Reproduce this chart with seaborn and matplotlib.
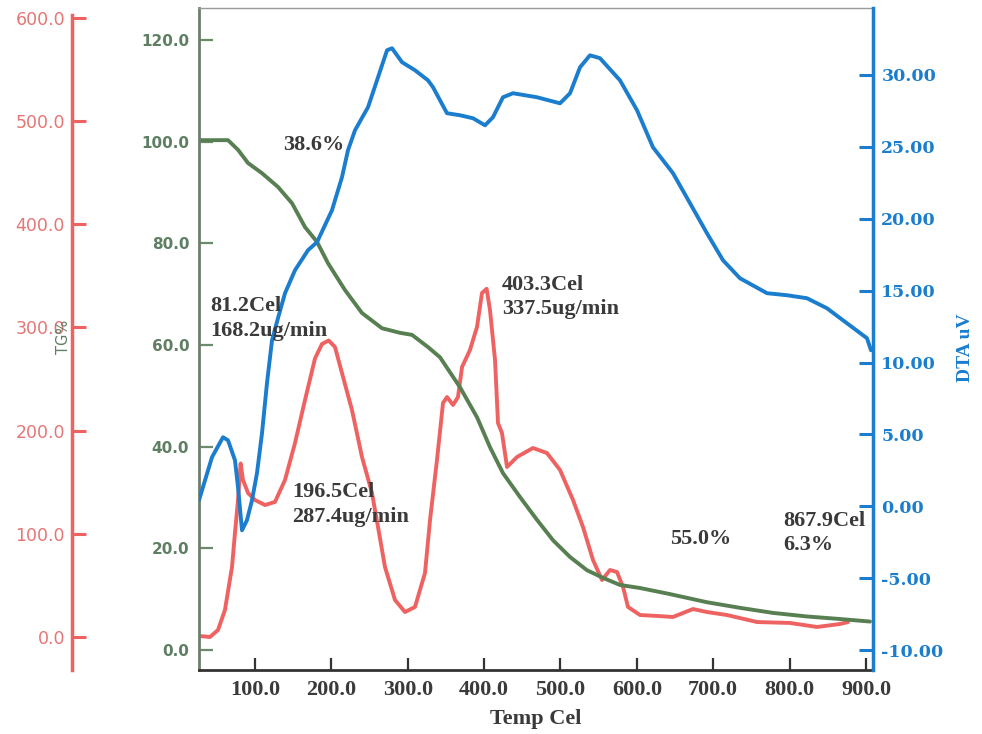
import matplotlib
matplotlib.use("Agg")
import matplotlib.pyplot as plt
import seaborn as sns

# ---------------- data ----------------
tg_temp = [26.7, 64.7, 77.8, 90.9, 109.2, 130.1, 148.5, 165.5, 181.2, 195.6,
           217.9, 240.1, 266.3, 289.9, 305.6, 326.5, 342.2, 368.4, 390.7, 407.7,
           424.7, 447.0, 469.3, 490.2, 512.5, 534.7, 555.7, 577.9, 604.1, 643.4,
           691.8, 735.0, 778.3, 822.8, 866.0, 905.3]
tg_pct = [100.3, 100.3, 98.4, 95.8, 93.8, 91.1, 87.9, 83.2, 80.3, 76.1,
          70.8, 66.3, 63.3, 62.4, 62.0, 59.6, 57.6, 51.7, 45.8, 39.9,
          34.8, 30.1, 25.6, 21.6, 18.3, 15.7, 14.2, 12.8, 12.2, 11.0,
          9.4, 8.3, 7.3, 6.6, 6.1, 5.6]

dtg_temp = [26.7, 41.1, 51.6, 60.7, 69.9, 73.8, 77.8, 81.2, 84.3, 90.9,
            100.0, 113.1, 126.2, 139.3, 152.4, 165.5, 178.6, 187.7, 196.5, 204.8,
            213.9, 227.0, 240.1, 253.2, 261.1, 270.2, 283.3, 296.4, 309.5, 322.6,
            329.2, 338.3, 346.2, 351.4, 359.3, 365.8, 371.1, 381.5, 390.7, 397.2,
            403.3, 407.7, 414.3, 418.2, 423.4, 430.0, 443.1, 464.0, 482.3, 499.4,
            516.4, 529.5, 542.6, 554.4, 564.8, 574.0, 581.9, 588.4, 604.1, 626.4,
            647.3, 673.5, 691.8, 718.0, 757.3, 800.5, 835.9, 866.0, 876.5]
dtg_rate = [1.0, 0.0, 6.8, 26.2, 67.9, 100.8, 132.8, 168.2, 152.2, 139.6,
            132.8, 127.9, 130.9, 152.2, 188.0, 229.7, 270.0, 284.0, 287.4, 281.0,
            255.9, 220.0, 174.5, 139.6, 106.6, 67.9, 35.9, 24.2, 29.1, 62.0,
            113.4, 171.6, 226.8, 232.6, 224.9, 232.6, 261.7, 278.2, 300.5, 333.4,
            337.5, 317.0, 268.5, 207.4, 197.7, 164.8, 174.5, 183.2, 178.3, 161.9,
            132.8, 106.6, 74.6, 55.2, 64.9, 63.0, 48.5, 29.1, 21.3, 20.4,
            19.4, 27.1, 24.2, 21.3, 14.5, 13.6, 9.7, 12.6, 14.5]

dta_temp = [26.7, 43.7, 58.1, 64.7, 73.8, 77.8, 83.0, 89.5, 96.1, 102.6,
            109.2, 115.7, 122.3, 130.1, 139.3, 152.4, 169.4, 181.2, 200.8, 213.9,
            221.8, 231.0, 248.0, 261.1, 272.9, 279.4, 292.5, 309.5, 326.5, 333.1,
            351.4, 368.4, 385.5, 401.2, 411.6, 424.7, 437.8, 469.3, 499.4, 512.5,
            525.6, 538.6, 551.7, 577.9, 600.2, 621.1, 647.3, 669.6, 691.8, 712.8,
            735.0, 770.4, 796.6, 822.8, 849.0, 875.1, 901.3, 906.6]
dta_uv = [0.42, 3.41, 4.80, 4.59, 3.20, 1.32, -1.67, -0.97, 0.42, 2.30,
          5.08, 8.56, 11.55, 13.08, 14.82, 16.42, 17.81, 18.37, 20.59, 22.89,
          24.77, 26.16, 27.76, 29.84, 31.72, 31.86, 30.89, 30.33, 29.63, 29.15,
          27.34, 27.20, 26.99, 26.50, 27.06, 28.45, 28.73, 28.45, 28.03, 28.73,
          30.54, 31.37, 31.17, 29.63, 27.55, 24.97, 23.17, 21.08, 18.99, 17.11,
          15.86, 14.82, 14.68, 14.47, 13.77, 12.73, 11.69, 10.85]

x_ticks = [100, 200, 300, 400, 500, 600, 700, 800, 900]
tg_ticks = [0, 20, 40, 60, 80, 100, 120]
dtg_ticks = [0, 100, 200, 300, 400, 500, 600]
dta_ticks = [-10, -5, 0, 5, 10, 15, 20, 25, 30]

x_label = "Temp Cel"
tg_label = "TG%"
dta_label = "DTA uV"
annotation_lines = ["38.6%", "81.2Cel", "168.2ug/min", "196.5Cel", "287.4ug/min",
                    "403.3Cel", "337.5ug/min", "55.0%", "867.9Cel", "6.3%"]

# ---------------- style ----------------
sns.set_theme(style="white")
plt.rcParams['font.family'] = ['DejaVu Sans']

GREEN = "#587f52"
GREEN_TXT = "#5f7f63"
RED = "#ef6262"
RED_TXT = "#e57676"
BLUE = "#1b7dcd"
TXT = "#3a3a3a"

W, H = 982, 734
fig = plt.figure(figsize=(W / 100, H / 100), dpi=100)
rect = [199 / W, (H - 670) / H, 674 / W, 662 / H]
ax = fig.add_axes(rect)
ax_red = ax.twinx()
ax_blue = ax.twinx()

ax_red.set_zorder(0)
ax.set_zorder(1)
ax_blue.set_zorder(2)
ax.patch.set_visible(False)
ax_red.patch.set_visible(False)
ax_blue.patch.set_visible(False)

line_kw = dict(linewidth=2.8, estimator=None, sort=False,
               solid_joinstyle="round", solid_capstyle="round")
sns.lineplot(x=dtg_temp, y=dtg_rate, ax=ax_red, color=RED, **line_kw)
sns.lineplot(x=tg_temp, y=tg_pct, ax=ax, color=GREEN, **line_kw)
sns.lineplot(x=dta_temp, y=dta_uv, ax=ax_blue, color=BLUE, **line_kw)

XL = (26.7, 909.2)
for a in (ax, ax_red, ax_blue):
    a.set_xlim(*XL)
    a.set_xlabel("")
    a.set_ylabel("")

# ---- main (TG) axes ----
ax.set_ylim(-3.93, 126.3)
ax.set_xticks(x_ticks, labels=[f"{v:.1f}" for v in x_ticks],
              fontfamily="Liberation Serif", fontweight="bold", fontsize=16, color=TXT)
ax.tick_params(axis="x", direction="in", length=9, width=1.6, color="#333333", pad=7,
               bottom=True, top=False)
ax.set_yticks(tg_ticks, labels=[f"{v:.1f}" for v in tg_ticks],
              fontfamily="DejaVu Sans", fontweight="bold", fontsize=11, color=GREEN_TXT)
ax.tick_params(axis="y", direction="in", length=10, width=1.6, color="#6b8a6b", pad=7,
               left=True, right=False)
ax.spines["left"].set_color("#6d7d6d")
ax.spines["left"].set_linewidth(2)
ax.spines["bottom"].set_color("#333333")
ax.spines["bottom"].set_linewidth(2)
ax.spines["top"].set_color("#9a9a9a")
ax.spines["top"].set_linewidth(1)
ax.spines["right"].set_visible(False)

# ---- DTG (red) axis on the far left ----
ax_red.set_ylim(-32, 609.7)
ax_red.yaxis.set_ticks_position("left")
ax_red.yaxis.set_label_position("left")
for s in ("top", "bottom", "right"):
    ax_red.spines[s].set_visible(False)
ax_red.spines["left"].set_visible(True)
ax_red.spines["left"].set_position(("outward", 127 * 0.72))
ax_red.spines["left"].set_color(RED)
ax_red.spines["left"].set_linewidth(2.5)
ax_red.spines["left"].set_bounds(-32, 603)
ax_red.set_yticks(dtg_ticks, labels=[f"{v:.1f}" for v in dtg_ticks],
                  fontfamily="DejaVu Sans", fontsize=12.5, color=RED_TXT)
ax_red.tick_params(axis="y", direction="in", length=10, width=2.2, color=RED, pad=5,
                   left=True, right=False, labelleft=True, labelright=False)
ax_red.tick_params(axis="x", bottom=False, top=False, labelbottom=False, labeltop=False)

# ---- DTA (blue) axis on the right ----
ax_blue.set_ylim(-11.39, 34.66)
for s in ("top", "bottom", "left"):
    ax_blue.spines[s].set_visible(False)
ax_blue.spines["right"].set_color(BLUE)
ax_blue.spines["right"].set_linewidth(2.5)
ax_blue.set_yticks(dta_ticks, labels=[f"{v:.2f}" for v in dta_ticks],
                   fontfamily="DejaVu Serif", fontweight="bold", fontsize=12.5, color=BLUE)
ax_blue.tick_params(axis="y", direction="in", length=10, width=2.2, color=BLUE, pad=6,
                    left=False, right=True, labelleft=False, labelright=True)
ax_blue.tick_params(axis="x", bottom=False, top=False, labelbottom=False, labeltop=False)

# ---- axis titles ----
def px(x, y):
    return x / W, 1 - y / H

fig.text(*px(536, 719), x_label, ha="center", va="center", fontfamily="Liberation Serif",
         fontweight="bold", fontsize=16, color=TXT)
fig.text(*px(966, 348), dta_label, ha="center", va="center", rotation=90,
         fontfamily="Liberation Serif", fontweight="bold", fontsize=14, color=BLUE)
fig.text(*px(64, 337), tg_label, ha="center", va="center", rotation=90,
         fontfamily="DejaVu Sans", fontsize=10.5, color=GREEN_TXT)

# ---- annotations ----
ann_pos = [(283, 145), (210, 306), (210, 331), (292, 492), (292, 517),
           (502, 285), (502, 309), (670, 539), (783, 521), (783, 545)]
for txt, (x, y) in zip(annotation_lines, ann_pos):
    fig.text(*px(x, y), txt, ha="left", va="center", fontfamily="Liberation Serif",
             fontweight="bold", fontsize=16, color=TXT)

fig.savefig("out.png", dpi=100, facecolor="white")
